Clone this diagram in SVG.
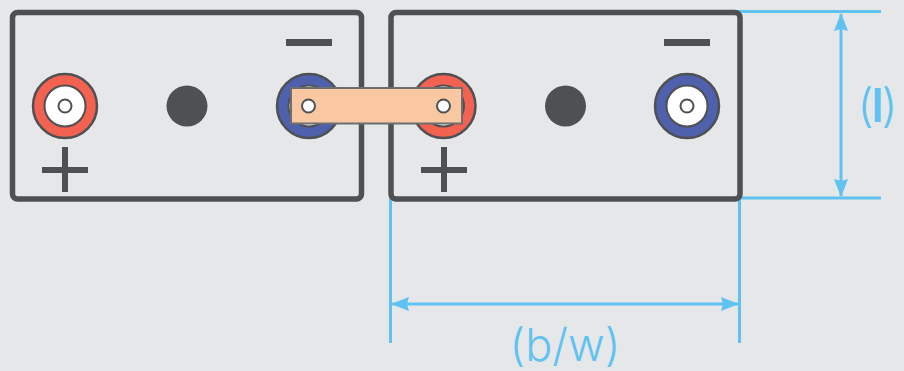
<svg xmlns="http://www.w3.org/2000/svg" width="904" height="371" viewBox="0 0 904 371">
<style>
.case{fill:none;stroke:#4f5053;stroke-width:5.500}
.sign{fill:#4f5053}
.t{stroke:#4f5053;stroke-width:2.500}
.pos{fill:#f36151}
.neg{fill:#4f60ac}
.w{fill:#fff;stroke:#4f5053;stroke-width:2}
.dim{stroke:#60c2f1;stroke-width:3;fill:none}
.lbl{font-family:"Inter","Liberation Sans",Arial,sans-serif;font-weight:300;font-size:45px;fill:#60c2f1;text-anchor:middle}
</style>
<defs>
<marker id="a" markerUnits="userSpaceOnUse" markerWidth="18" markerHeight="16" refX="17" refY="8" orient="auto-start-reverse">
<path d="M0 1L18 8L0 15L2 8Z" fill="#60c2f1"/>
</marker>
</defs>
<rect width="904" height="371" fill="#e6e7e9"/>
<g id="connectors">
<path class="dim" d="M705 11.500H881M739 198H881M390.500 198V343M739.500 198V343"/>
<path class="dim" d="M841 14V196" marker-start="url(#a)" marker-end="url(#a)"/>
<path class="dim" d="M392 304H738" marker-start="url(#a)" marker-end="url(#a)"/>
</g>
<g id="battery-1">
<rect class="case" x="12.500" y="12.500" width="349" height="186.500" rx="5"/>
<rect class="sign" x="42" y="167" width="46" height="6"/>
<rect class="sign" x="62" y="147" width="6" height="45"/>
<rect class="sign" x="286" y="39" width="46" height="7"/>
<circle class="t pos" cx="65" cy="106" r="32"/>
<circle class="w" cx="65" cy="106" r="20.500"/>
<circle class="w" cx="65" cy="106" r="6.500"/>
<circle class="sign" cx="187" cy="106" r="20.500"/>
<circle class="t neg" cx="309" cy="106" r="32"/>
<circle class="w" cx="309" cy="106" r="20.500"/>
</g>
<g id="battery-2">
<rect class="case" x="391" y="12.500" width="349" height="186.500" rx="5"/>
<rect class="sign" x="421" y="167" width="46" height="6"/>
<rect class="sign" x="441" y="147" width="6" height="45"/>
<rect class="sign" x="664" y="39" width="46" height="7"/>
<circle class="t pos" cx="443.500" cy="106" r="32"/>
<circle class="w" cx="443.500" cy="106" r="20.500"/>
<circle class="sign" cx="565.500" cy="106" r="20.500"/>
<circle class="t neg" cx="687" cy="106" r="32"/>
<circle class="w" cx="687" cy="106" r="20.500"/>
<circle class="w" cx="687" cy="106" r="6.500"/>
</g>
<g id="busbar">
<rect x="291" y="88" width="171" height="35.500" fill="#f9c8a2" stroke="#6d6e70" stroke-width="2"/>
<circle class="w" cx="308.500" cy="106" r="6.500"/>
<circle class="w" cx="443.500" cy="106" r="6.500"/>
</g>
<g id="labels">
<text class="lbl" x="876.500" y="122" style="font-size:46px;letter-spacing:-2px">(<tspan font-weight="600">l</tspan>)</text>
<text class="lbl" x="565" y="361">(b/w)</text>
</g>
</svg>
